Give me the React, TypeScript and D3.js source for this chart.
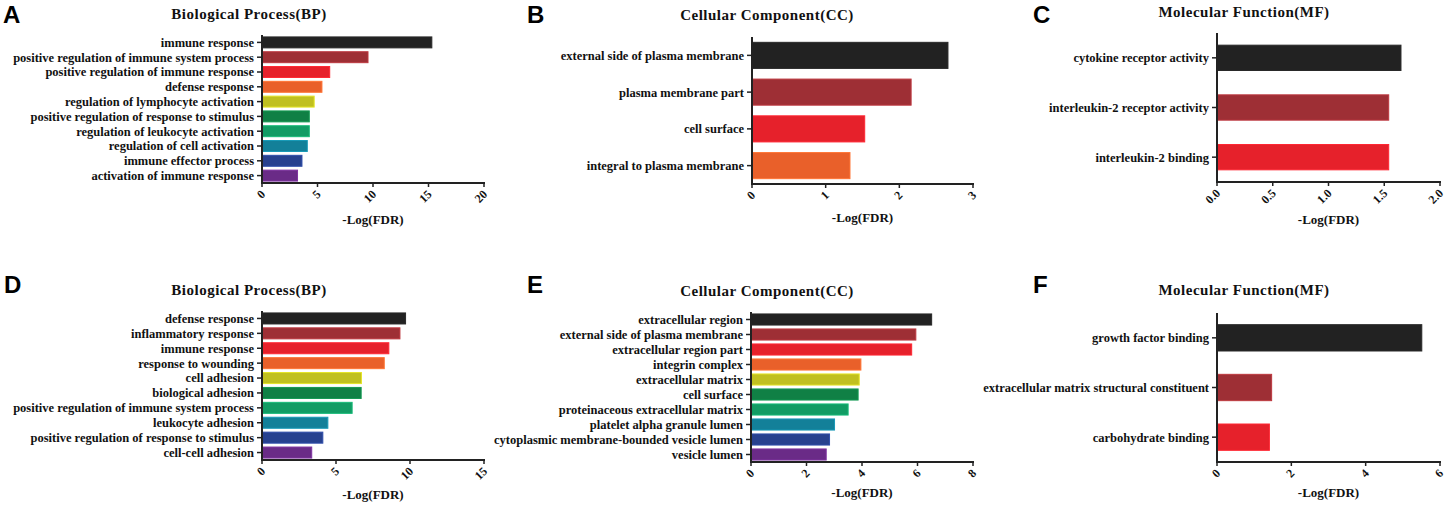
import * as d3 from 'd3';

// --- data ---
const bpTopTerms = [
  'immune response',
  'positive regulation of immune system process',
  'positive regulation of immune response',
  'defense response',
  'regulation of lymphocyte activation',
  'positive regulation of response to stimulus',
  'regulation of leukocyte activation',
  'regulation of cell activation',
  'immune effector process',
  'activation of immune response',
];
const bpTopValues = [15.3, 9.55, 6.1, 5.4, 4.7, 4.26, 4.26, 4.08, 3.6, 3.2];

const ccTopTerms = [
  'external side of plasma membrane',
  'plasma membrane part',
  'cell surface',
  'integral to plasma membrane',
];
const ccTopValues = [2.66, 2.16, 1.53, 1.33];

const mfTopTerms = [
  'cytokine receptor activity',
  'interleukin-2 receptor activity',
  'interleukin-2 binding',
];
const mfTopValues = [1.65, 1.54, 1.54];

const bpBottomTerms = [
  'defense response',
  'inflammatory response',
  'immune response',
  'response to wounding',
  'cell adhesion',
  'biological adhesion',
  'positive regulation of immune system process',
  'leukocyte adhesion',
  'positive regulation of response to stimulus',
  'cell-cell adhesion',
];
const bpBottomValues = [9.7, 9.32, 8.57, 8.26, 6.72, 6.7, 6.09, 4.45, 4.11, 3.36];

const ccBottomTerms = [
  'extracellular region',
  'external side of plasma membrane',
  'extracellular region part',
  'integrin complex',
  'extracellular matrix',
  'cell surface',
  'proteinaceous extracellular matrix',
  'platelet alpha granule lumen',
  'cytoplasmic membrane-bounded vesicle lumen',
  'vesicle lumen',
];
const ccBottomValues = [6.51, 5.94, 5.79, 3.96, 3.9, 3.86, 3.5, 3.01, 2.83, 2.71];

const mfBottomTerms = [
  'growth factor binding',
  'extracellular matrix structural constituent',
  'carbohydrate binding',
];
const mfBottomValues = [5.51, 1.47, 1.41];

const bpTicks = [0, 5, 10, 15, 20];
const ccTicks = [0, 1, 2, 3];
const mfTicks = [0, 0.5, 1.0, 1.5, 2.0];
const bp2Ticks = [0, 5, 10, 15];
const cc2Ticks = [0, 2, 4, 6, 8];
const mf2Ticks = [0, 2, 4, 6];

const palette = [
  '#222222', '#9e2f35', '#e6212b', '#e9602a', '#c0c020',
  '#108045', '#129c64', '#138099', '#27418f', '#6a2b87',
];

const serif = '"Liberation Serif", "Times New Roman", serif';
const sans = '"Liberation Sans", Arial, sans-serif';

type PanelProps = {
  letter: string;
  letterX: number;
  letterY: number;
  title: string;
  titleX: number;
  titleY: number;
  terms: string[];
  values: number[];
  ticks: number[];
  tickFormat?: (d: number) => string;
  x0: number;
  x1: number;
  yTop: number;
  yBottom: number;
  padding: number;
  xTitleY: number;
};

function Panel({
  letter, letterX, letterY, title, titleX, titleY, terms, values, ticks,
  tickFormat = d3.format('d'), x0, x1, yTop, yBottom, padding, xTitleY,
}: PanelProps) {
  const x = d3.scaleLinear([0, ticks[ticks.length - 1]], [x0, x1]);
  const y = d3.scaleBand(terms, [yTop, yBottom]).paddingInner(padding).paddingOuter(padding / 2);

  return (
    <g>
      <text x={letterX} y={letterY} fontFamily={sans} fontWeight="bold" fontSize={24} fill="#000">
        {letter}
      </text>
      <text x={titleX} y={titleY} textAnchor="middle" fontFamily={serif} fontWeight="bold"
        fontSize={15} letterSpacing={0.5} fill="#111">
        {title}
      </text>

      {terms.map((t, i) => {
        const c = palette[i];
        return (
          <rect
            key={t}
            x={x(0)}
            y={y(t)}
            width={x(values[i]) - x(0)}
            height={y.bandwidth()}
            fill={c}
            stroke={d3.color(c)!.brighter(0.5).formatHex()}
            strokeWidth={1}
          />
        );
      })}

      {/* y axis */}
      <line x1={x0} x2={x0} y1={yTop} y2={yBottom} stroke="#222" strokeWidth={2} />
      {terms.map((t) => {
        const cy = (y(t) ?? 0) + y.bandwidth() / 2;
        return (
          <g key={t}>
            <line x1={x0 - 5} x2={x0} y1={cy} y2={cy} stroke="#222" strokeWidth={1.5} />
            <text x={x0 - 8} y={cy} dy="0.35em" textAnchor="end" fontFamily={serif}
              fontWeight="bold" fontSize={12.5} fill="#111">
              {t}
            </text>
          </g>
        );
      })}

      {/* x axis */}
      <line x1={x0 - 1} x2={x1 + 1} y1={yBottom} y2={yBottom} stroke="#222" strokeWidth={2} />
      {ticks.map((d) => (
        <g key={d}>
          <line x1={x(d)} x2={x(d)} y1={yBottom} y2={yBottom + 4} stroke="#222" strokeWidth={1.5} />
          <text
            transform={`translate(${x(d) + 1},${yBottom + 9}) rotate(-45)`}
            dy="0.35em"
            textAnchor="end"
            fontFamily={serif}
            fontWeight="bold"
            fontSize={12}
            fill="#111"
          >
            {tickFormat(d)}
          </text>
        </g>
      ))}
      <text x={(x0 + x1) / 2} y={xTitleY} textAnchor="middle" fontFamily={serif}
        fontWeight="bold" fontSize={13} fill="#111">
        -Log(FDR)
      </text>
    </g>
  );
}

export default function App() {
  return (
    <svg width={1446} height={506} style={{ position: 'absolute', left: 0, top: 0, background: '#fff' }}>
      <Panel letter="A" letterX={3} letterY={23} title="Biological Process(BP)" titleX={249} titleY={18.5}
        terms={bpTopTerms} values={bpTopValues} ticks={bpTicks}
        x0={262} x1={484} yTop={35} yBottom={183} padding={0.26} xTitleY={224} />
      <Panel letter="B" letterX={527} letterY={23} title="Cellular Component(CC)" titleX={767} titleY={20}
        terms={ccTopTerms} values={ccTopValues} ticks={ccTicks}
        x0={752} x1={973} yTop={37} yBottom={184} padding={0.29} xTitleY={222} />
      <Panel letter="C" letterX={1033} letterY={23} title="Molecular Function(MF)" titleX={1244} titleY={16.5}
        terms={mfTopTerms} values={mfTopValues} ticks={mfTicks} tickFormat={d3.format('.1f')}
        x0={1217} x1={1440} yTop={33} yBottom={182} padding={0.49} xTitleY={224} />
      <Panel letter="D" letterX={4} letterY={293} title="Biological Process(BP)" titleX={249} titleY={295}
        terms={bpBottomTerms} values={bpBottomValues} ticks={bp2Ticks}
        x0={262} x1={484} yTop={311} yBottom={460} padding={0.26} xTitleY={499} />
      <Panel letter="E" letterX={527} letterY={293} title="Cellular Component(CC)" titleX={767} titleY={296}
        terms={ccBottomTerms} values={ccBottomValues} ticks={cc2Ticks}
        x0={751} x1={973} yTop={312} yBottom={462} padding={0.26} xTitleY={497} />
      <Panel letter="F" letterX={1033} letterY={293} title="Molecular Function(MF)" titleX={1244} titleY={295}
        terms={mfBottomTerms} values={mfBottomValues} ticks={mf2Ticks}
        x0={1217} x1={1440} yTop={313} yBottom={462} padding={0.47} xTitleY={497} />
    </svg>
  );
}
